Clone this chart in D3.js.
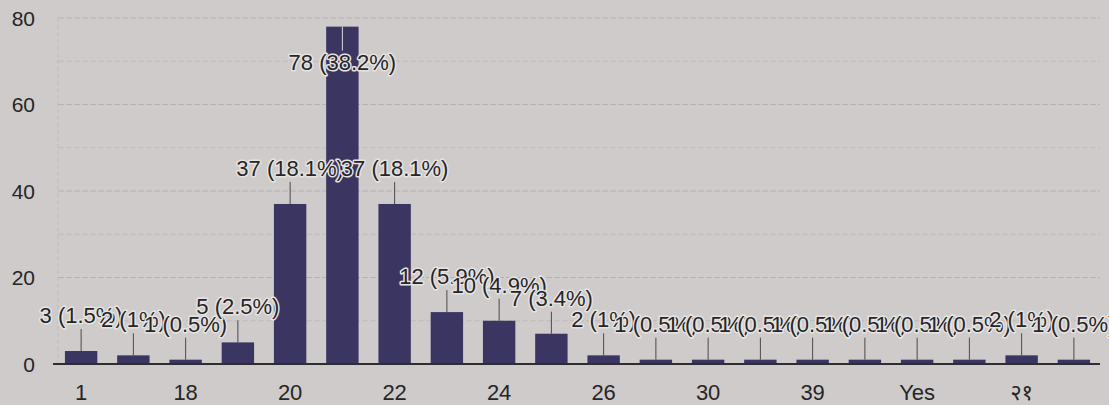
<!DOCTYPE html>
<html>
<head>
<meta charset="utf-8">
<script src="https://cdn.jsdelivr.net/npm/d3@7"></script>
<style>
  html, body { margin: 0; padding: 0; background: #cecbca; }
  svg { display: block; }
  text { font-family: "Liberation Sans", Arial, "Noto Sans", "DejaVu Sans", sans-serif; }
</style>
</head>
<body>
<svg id="chart" width="1109" height="405"></svg>
<script>
const categories = ["1", "17", "18", "19", "20", "21", "22", "23", "24", "25", "26", "27", "30", "35", "39", "40", "Yes", "yes", "२१", "२२"];
const counts = [3, 2, 1, 5, 37, 78, 37, 12, 10, 7, 2, 1, 1, 1, 1, 1, 1, 1, 2, 1];
const yTicks = [0, 20, 40, 60, 80];
const yGrid = [10, 20, 30, 40, 50, 60, 70, 80];

const total = d3.sum(counts);
const W = 1109, H = 405;
const svg = d3.select("#chart");

svg.append("rect").attr("width", W).attr("height", H).attr("fill", "#cecbca");

const x = d3.scaleBand().domain(categories).range([55, 1100]).paddingInner(0.38).paddingOuter(0.19);
const y = d3.scaleLinear().domain([0, 80]).range([364, 18]);

// gridlines
svg.append("g").selectAll("line").data(yGrid).join("line")
  .attr("x1", 58).attr("x2", 1100)
  .attr("y1", d => y(d)).attr("y2", d => y(d))
  .attr("stroke", d => d % 20 === 0 ? "#b5b2b1" : "#bebbba")
  .attr("stroke-width", 1)
  .attr("stroke-dasharray", "6,2");
svg.append("line").attr("x1", 58).attr("x2", 58).attr("y1", y(80)).attr("y2", y(0))
  .attr("stroke", "#bebbba").attr("stroke-dasharray", "4,3");

// y axis labels
svg.append("g").selectAll("text").data(yTicks).join("text")
  .attr("x", 35).attr("y", d => y(d)).attr("dy", "0.36em")
  .attr("text-anchor", "end").attr("font-size", 21).attr("fill", "#262528")
  .text(d => d);

// bars
const data = categories.map((c, i) => ({ c, v: counts[i], i }));
svg.append("g").selectAll("rect").data(data).join("rect")
  .attr("x", d => x(d.c)).attr("width", x.bandwidth())
  .attr("y", d => y(d.v)).attr("height", d => y(0) - y(d.v))
  .attr("fill", "#3b3661");

// x axis baseline
svg.append("line").attr("x1", 53).attr("x2", 1100).attr("y1", y(0)).attr("y2", y(0))
  .attr("stroke", "#2e2d30").attr("stroke-width", 2);

// x labels (every other)
svg.append("g").selectAll("text").data(data.filter(d => d.i % 2 === 0)).join("text")
  .attr("x", d => x(d.c) + x.bandwidth() / 2).attr("y", 400)
  .attr("text-anchor", "middle").attr("font-size", 22).attr("fill", "#262528")
  .text(d => d.c);

// annotations
const fmt = v => {
  const p = Math.round(v / total * 1000) / 10;
  return v + " (" + (Number.isInteger(p) ? p.toFixed(0) : p.toFixed(1)) + "%)";
};
const ann = svg.append("g");
data.forEach(d => {
  const top = y(d.v);
  const cx = x(d.c) + x.bandwidth() / 2;
  const inside = top - 43 < y(80);
  if (inside) {
    ann.append("line").attr("x1", cx).attr("x2", cx).attr("y1", top).attr("y2", top + 24)
      .attr("stroke", "#d8d6e0").attr("stroke-width", 1);
  } else {
    ann.append("line").attr("x1", cx).attr("x2", cx).attr("y1", top - 22).attr("y2", top)
      .attr("stroke", "#4a494c").attr("stroke-width", 1);
  }
  ann.append("text")
    .attr("x", cx).attr("y", inside ? top + 43 : top - 28)
    .attr("text-anchor", "middle").attr("font-size", 22)
    .attr("fill", "#262528")
    .attr("stroke", "#e6e4e2").attr("stroke-width", 3)
    .attr("paint-order", "stroke").attr("stroke-linejoin", "round")
    .text(fmt(d.v));
});
</script>
</body>
</html>
